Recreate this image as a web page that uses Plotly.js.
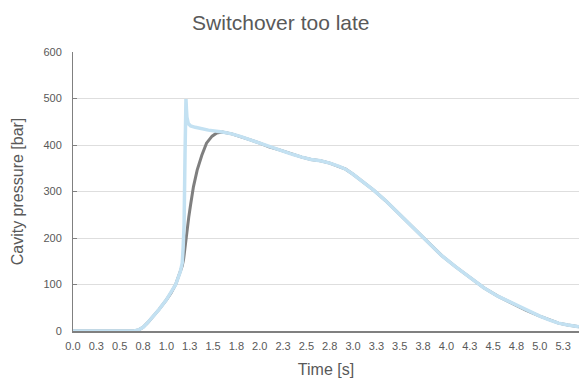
<!DOCTYPE html>
<html>
<head>
<meta charset="utf-8">
<script src="https://cdn.plot.ly/plotly-3.0.1.min.js"></script>
<style>
  html, body { margin: 0; padding: 0; background: #ffffff; }
  #chart { width: 579px; height: 378px; }
</style>
</head>
<body>
<div id="chart"></div>
<script>
// Cavity pressure over time: correct switchover profile (blue) vs. late switchover (gray)
const timeLate = [0, 0.65, 0.70, 0.75, 0.80, 0.86, 0.92, 1.00, 1.05, 1.10, 1.15, 1.17,
  1.185, 1.20, 1.22, 1.24, 1.26, 1.29, 1.33, 1.38, 1.43, 1.49, 1.54, 1.60,
  1.70, 1.80, 1.90, 2.00, 2.10, 2.22, 2.35, 2.45, 2.55, 2.65, 2.75, 2.85, 2.92,
  3.00, 3.10, 3.22, 3.35, 3.50, 3.65, 3.80, 3.95, 4.10, 4.25, 4.40, 4.55, 4.70,
  4.85, 5.00, 5.10, 5.20, 5.30, 5.42];
const pressureLate = [0, 0, 2, 8, 18, 31, 46, 67, 82, 100, 128, 140,
  155, 181, 217, 245, 272, 310, 346, 378, 404, 419, 426, 428,
  424, 418, 411, 404, 396, 389, 380, 374, 369, 366, 361, 354, 348,
  337, 322, 303, 280, 250, 222, 192, 162, 138, 115, 93, 75, 60,
  45, 32, 24, 17, 13, 9];

const timeRef = [0, 0.65, 0.70, 0.75, 0.80, 0.86, 0.92, 1.00, 1.05, 1.10, 1.15, 1.17,
  1.18, 1.19, 1.20, 1.205, 1.21, 1.215, 1.22, 1.235, 1.26, 1.31, 1.45, 1.60,
  1.70, 1.80, 1.90, 2.00, 2.10, 2.22, 2.35, 2.45, 2.55, 2.65, 2.75, 2.85, 2.92,
  3.00, 3.10, 3.22, 3.35, 3.50, 3.65, 3.80, 3.95, 4.10, 4.25, 4.40, 4.55, 4.70,
  4.85, 5.00, 5.10, 5.20, 5.30, 5.42];
const pressureRef = [0, 0, 2, 8, 18, 31, 46, 67, 82, 100, 128, 146,
  180, 230, 380, 470, 499, 478, 460, 446, 441, 438, 432, 428,
  424, 418, 411, 404, 396, 389, 380, 374, 369, 366, 361, 354, 348,
  337, 322, 303, 280, 250, 222, 192, 162, 138, 115, 93, 75, 60,
  45, 32, 24, 17, 13, 9];

const tickTimes = [0, 0.25, 0.5, 0.75, 1.0, 1.25, 1.5, 1.75, 2.0, 2.25, 2.5, 2.75,
  3.0, 3.25, 3.5, 3.75, 4.0, 4.25, 4.5, 4.75, 5.0, 5.25];
const tickLabels = ["0.0", "0.3", "0.5", "0.8", "1.0", "1.3", "1.5", "1.8", "2.0", "2.3", "2.5", "2.8",
  "3.0", "3.3", "3.5", "3.8", "4.0", "4.3", "4.5", "4.8", "5.0", "5.3"];
const pressureTicks = [0, 100, 200, 300, 400, 500, 600];

const textGray = '#595959';
const fontFamily = 'Liberation Sans, Arial, sans-serif';

const traces = [
  {
    x: timeLate, y: pressureLate, type: 'scatter', mode: 'lines',
    line: { color: '#7f7f7f', width: 3 }, hoverinfo: 'x+y', showlegend: false
  },
  {
    x: timeRef, y: pressureRef, type: 'scatter', mode: 'lines',
    line: { color: '#c3e1f2', width: 3.5 }, hoverinfo: 'x+y', showlegend: false
  }
];

const layout = {
  width: 579, height: 378,
  margin: { l: 73, r: 0, t: 52, b: 47 },
  paper_bgcolor: '#ffffff', plot_bgcolor: '#ffffff',
  font: { family: fontFamily, color: textGray, size: 11 },
  title: {
    text: 'Switchover too late',
    font: { family: fontFamily, size: 21, color: textGray },
    x: 0.485, xanchor: 'center', y: 0.939, yanchor: 'middle', yref: 'container'
  },
  xaxis: {
    range: [0, 5.42], tickmode: 'array', tickvals: tickTimes, ticktext: tickLabels,
    showgrid: false, zeroline: false,
    showline: true, linecolor: '#808080', linewidth: 1.5,
    ticks: 'outside', ticklen: 4, tickcolor: 'rgba(0,0,0,0)',
    tickfont: { family: fontFamily, size: 11, color: textGray },
    title: { text: 'Time [s]', font: { family: fontFamily, size: 16, color: textGray }, standoff: 13 }
  },
  yaxis: {
    range: [0, 600], tickmode: 'array', tickvals: pressureTicks,
    showgrid: true, gridcolor: '#dedede', gridwidth: 1, zeroline: false,
    showline: true, linecolor: '#808080', linewidth: 1,
    ticks: 'inside', ticklen: 4, tickcolor: '#808080',
    ticklabelstandoff: 8,
    tickfont: { family: fontFamily, size: 11, color: textGray },
    title: { text: 'Cavity pressure [bar]', font: { family: fontFamily, size: 16, color: textGray }, standoff: 15 }
  }
};

Plotly.newPlot('chart', traces, layout, { displayModeBar: false, staticPlot: true });
</script>
</body>
</html>
